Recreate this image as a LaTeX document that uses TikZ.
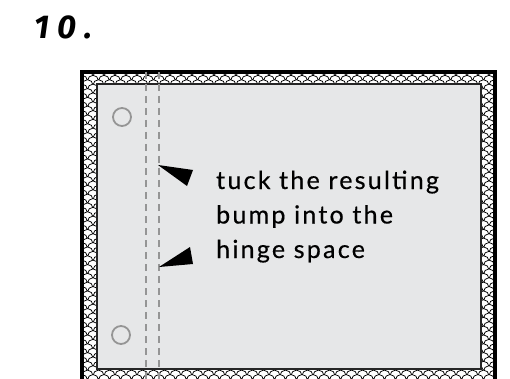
\documentclass[tikz,border=0pt]{standalone}
\usepackage{fontspec}
\setmainfont{Lato}[LetterSpace=9,FakeBold=0.5]
\newfontfamily\titlefont[LetterSpace=25]{Fira Sans}
\usetikzlibrary{positioning}
\definecolor{sheet}{HTML}{E6E7E8}
\definecolor{hingegray}{HTML}{959595}
\tikzset{frame/.style={line width=3.2pt},sheetbox/.style={fill=sheet,draw=black!85,line width=1.8pt},
  scaleline/.style={fill=white,draw=black,line width=.75pt},fold/.style={hingegray,line width=2.4pt,dash pattern=on 7pt off 5pt},
  hole/.style={hingegray,line width=1.8pt},tip/.style={fill=black},
  notetext/.style={align=left,anchor=base west,font=\fontsize{25}{34.5}\selectfont}}

\begin{document}
\begin{tikzpicture}[x=1pt,y=-1pt]
\useasboundingbox (0,0) rectangle (510,379);
\clip (0,0) rectangle (510,379);
\node[anchor=base west,inner sep=0pt,font=\titlefont\bfseries\itshape\fontsize{33}{33}\selectfont] (title) at (34,39) {10.};
% scalloped border, rows laid top to bottom
\begin{scope}
\clip (82,72) rectangle (495,384);
\foreach \j in {0,...,72}{
  \filldraw[scaleline] foreach \i in {-1,...,38}{({82+11*\i+5.5*mod(\j,2)},{72+4.4*\j}) circle(5.5)};}
\end{scope}
\draw[frame] (82,72) rectangle (495,384);
\draw[sheetbox] (97,84) rectangle (481,369);
% hinge folds and holes
\coordinate (f1t) at (146,72);\coordinate (f1b) at (146,379);
\coordinate (f2t) at (159,72);\coordinate (f2b) at (159,379);
\draw[fold] (f1t)--(f1b);\draw[fold] (f2t)--(f2b);
\node[hole,circle,draw,minimum size=18pt,inner sep=0pt] (holeA) at (122,117) {};
\node[hole,circle,draw,minimum size=18pt,inner sep=0pt] (holeB) at (121,335) {};
% pointers
\coordinate (tipA) at (158,165);\coordinate (tipB) at (159,267);
\fill[tip] (tipA)--(193,170)--(187,186)--cycle;
\fill[tip] (tipB)--(190,247)--(193,264)--cycle;
\node[notetext,inner sep=0pt] (note) at (216,258) {tuck the resulting\\bump into the\\hinge space};
\end{tikzpicture}
\end{document}
